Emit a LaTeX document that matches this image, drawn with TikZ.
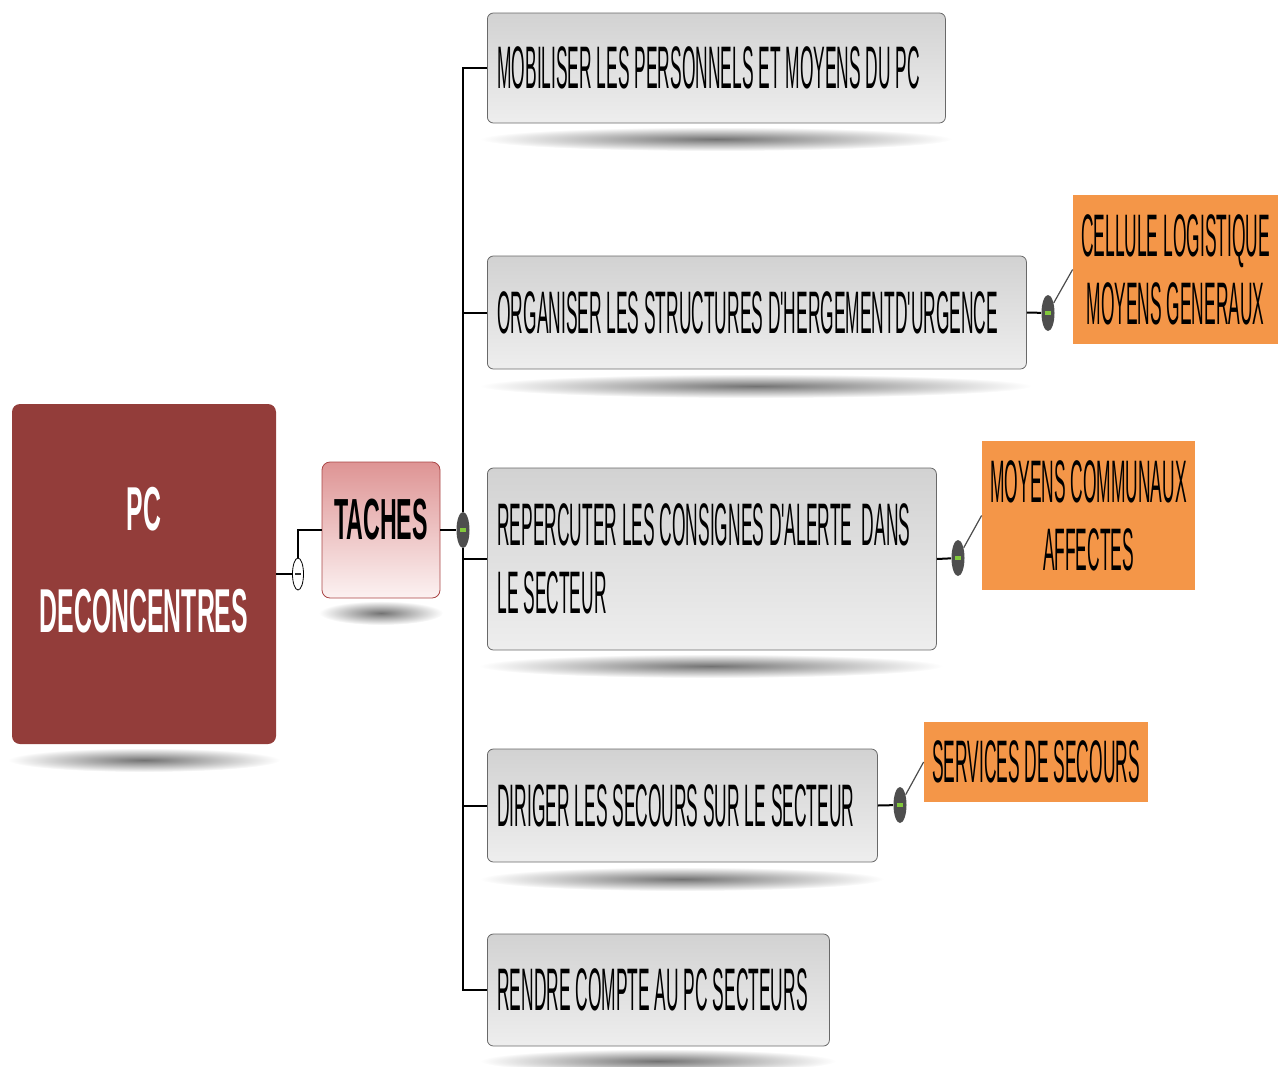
\documentclass[tikz,border=0pt]{standalone}
\usepackage{fontspec}
\setmainfont{Liberation Sans}
\newfontfamily\narrowfont[FakeStretch=0.29]{Liberation Sans}
\newfontfamily\narrowbold[FakeStretch=0.4]{Liberation Sans}
\usetikzlibrary{calc,shapes.geometric}
\definecolor{rootred}{RGB}{147,61,58}
\definecolor{tachestop}{RGB}{222,148,148}
\definecolor{tachesbot}{RGB}{252,242,242}
\definecolor{tachesline}{RGB}{170,70,70}
\definecolor{boxtop}{RGB}{210,210,210}
\definecolor{boxbot}{RGB}{238,238,238}
\definecolor{boxline}{RGB}{105,105,105}
\definecolor{orangebox}{RGB}{244,150,72}
\definecolor{knobgray}{RGB}{78,78,78}
\definecolor{knobgreen}{RGB}{130,200,60}
\newcommand\taskline[2]{\makebox[#1][l]{#2}}

\begin{document}
\begin{tikzpicture}[x=0.5pt,y=-0.5pt,
    task/.style={draw=boxline,top color=boxtop,bottom color=boxbot,rounded corners=3pt,
      anchor=west,align=left,inner xsep=5pt,font=\narrowfont\fontsize{30}{34}\selectfont},
    res/.style={fill=orangebox,align=center,inner sep=0pt,font=\narrowfont\fontsize{30}{34}\selectfont},
    knob/.style={ellipse,fill=knobgray,minimum width=6.5pt,minimum height=18pt,inner sep=0pt,
      path picture={\fill[knobgreen] ([xshift=-1.6pt,yshift=-0.8pt]path picture bounding box.center)
        rectangle ([xshift=1.6pt,yshift=0.8pt]path picture bounding box.center);}},
    fold/.style={ellipse,draw,fill=white,minimum width=5.5pt,minimum height=16pt,inner sep=0pt,
      path picture={\fill[black!80] ([xshift=-1.3pt,yshift=-0.5pt]path picture bounding box.center)
        rectangle ([xshift=1.3pt,yshift=0.5pt]path picture bounding box.center);}},
    floorshade/.style={inner color=black!55,outer color=white},
    link/.style={line width=1pt},
    thinlink/.style={line width=0.6pt,black!70}]
\useasboundingbox (0,0) rectangle (1285,1066);

\foreach \n/\cx/\cy/\r in {root/144/760/68pt,taches/381/613/31pt,b1/716/139/118pt,b2/756/386/138pt,
    b3/711/666/116pt,b4/682/879/101pt,b5/658/1061/89pt}
  \shade[floorshade] (\cx,\cy) ellipse [x radius=\r,y radius=6pt];

\node[fill=rootred,rounded corners=4pt,minimum width=132pt,minimum height=170pt,align=center,text depth=14pt,
  text=white,font=\narrowbold\bfseries\fontsize{31}{51}\selectfont] (root) at (144,574) {PC\\DECONCENTRES};
\node[fold] (c0) at (298,574) {};
\node[draw=tachesline,top color=tachestop,bottom color=tachesbot,rounded corners=4pt,text depth=11pt,
  minimum width=59pt,minimum height=68pt,font=\narrowbold\bfseries\fontsize{29}{34}\selectfont] (taches) at (381,530) {TACHES};
\node[knob] (k0) at (463,530) {};

\node[task,minimum width=229pt,minimum height=55pt] (b1) at (487,68) {\taskline{219pt}{MOBILISER LES PERSONNELS ET MOYENS DU PC}};
\node[task,minimum width=269.5pt,minimum height=56.5pt] (b2) at (487,312.5) {\taskline{259.5pt}{ORGANISER LES STRUCTURES D'HERGEMENTD'URGENCE}};
\node[task,minimum width=224.5pt,minimum height=91pt] (b3) at (487,559) {\taskline{214.5pt}{REPERCUTER LES CONSIGNES D'ALERTE\ \ DANS}\\LE SECTEUR};
\node[task,minimum width=195pt,minimum height=56.5pt] (b4) at (487,805.5) {\taskline{185pt}{DIRIGER LES SECOURS SUR LE SECTEUR}};
\node[task,minimum width=171pt,minimum height=56pt] (b5) at (487,990) {\taskline{161pt}{RENDRE COMPTE AU PC SECTEURS}};

\node[knob] (k2) at (1048,313) {};
\node[knob] (k3) at (958,558) {};
\node[knob] (k4) at (900,805) {};
\node[res,minimum width=102.5pt,minimum height=74.5pt] (o2) at (1175.5,269.5) {CELLULE LOGISTIQUE\\MOYENS GENERAUX};
\node[res,minimum width=106.5pt,minimum height=74.5pt] (o3) at (1088.5,515.5) {MOYENS COMMUNAUX\\AFFECTES};
\node[res,minimum width=112pt,minimum height=40pt] (o4) at (1036,762) {SERVICES DE SECOURS};

\draw[link] (root.east) -- (c0);
\draw[link] (c0) |- (taches.west);
\draw[link] (taches.east) -- (k0);
\foreach \b in {b1,b2,b3,b4,b5}
  \draw[link] (k0) |- (\b.west);
\draw[link] (b2.east) -- (k2);
\draw[link] (b3.east) -- (k3);
\draw[link] (b4.east) -- (k4);
\draw[thinlink] (k2) -- (o2.west);
\draw[thinlink] (k3) -- (o3.west);
\draw[thinlink] (k4) -- (o4.west);
\end{tikzpicture}
\end{document}
